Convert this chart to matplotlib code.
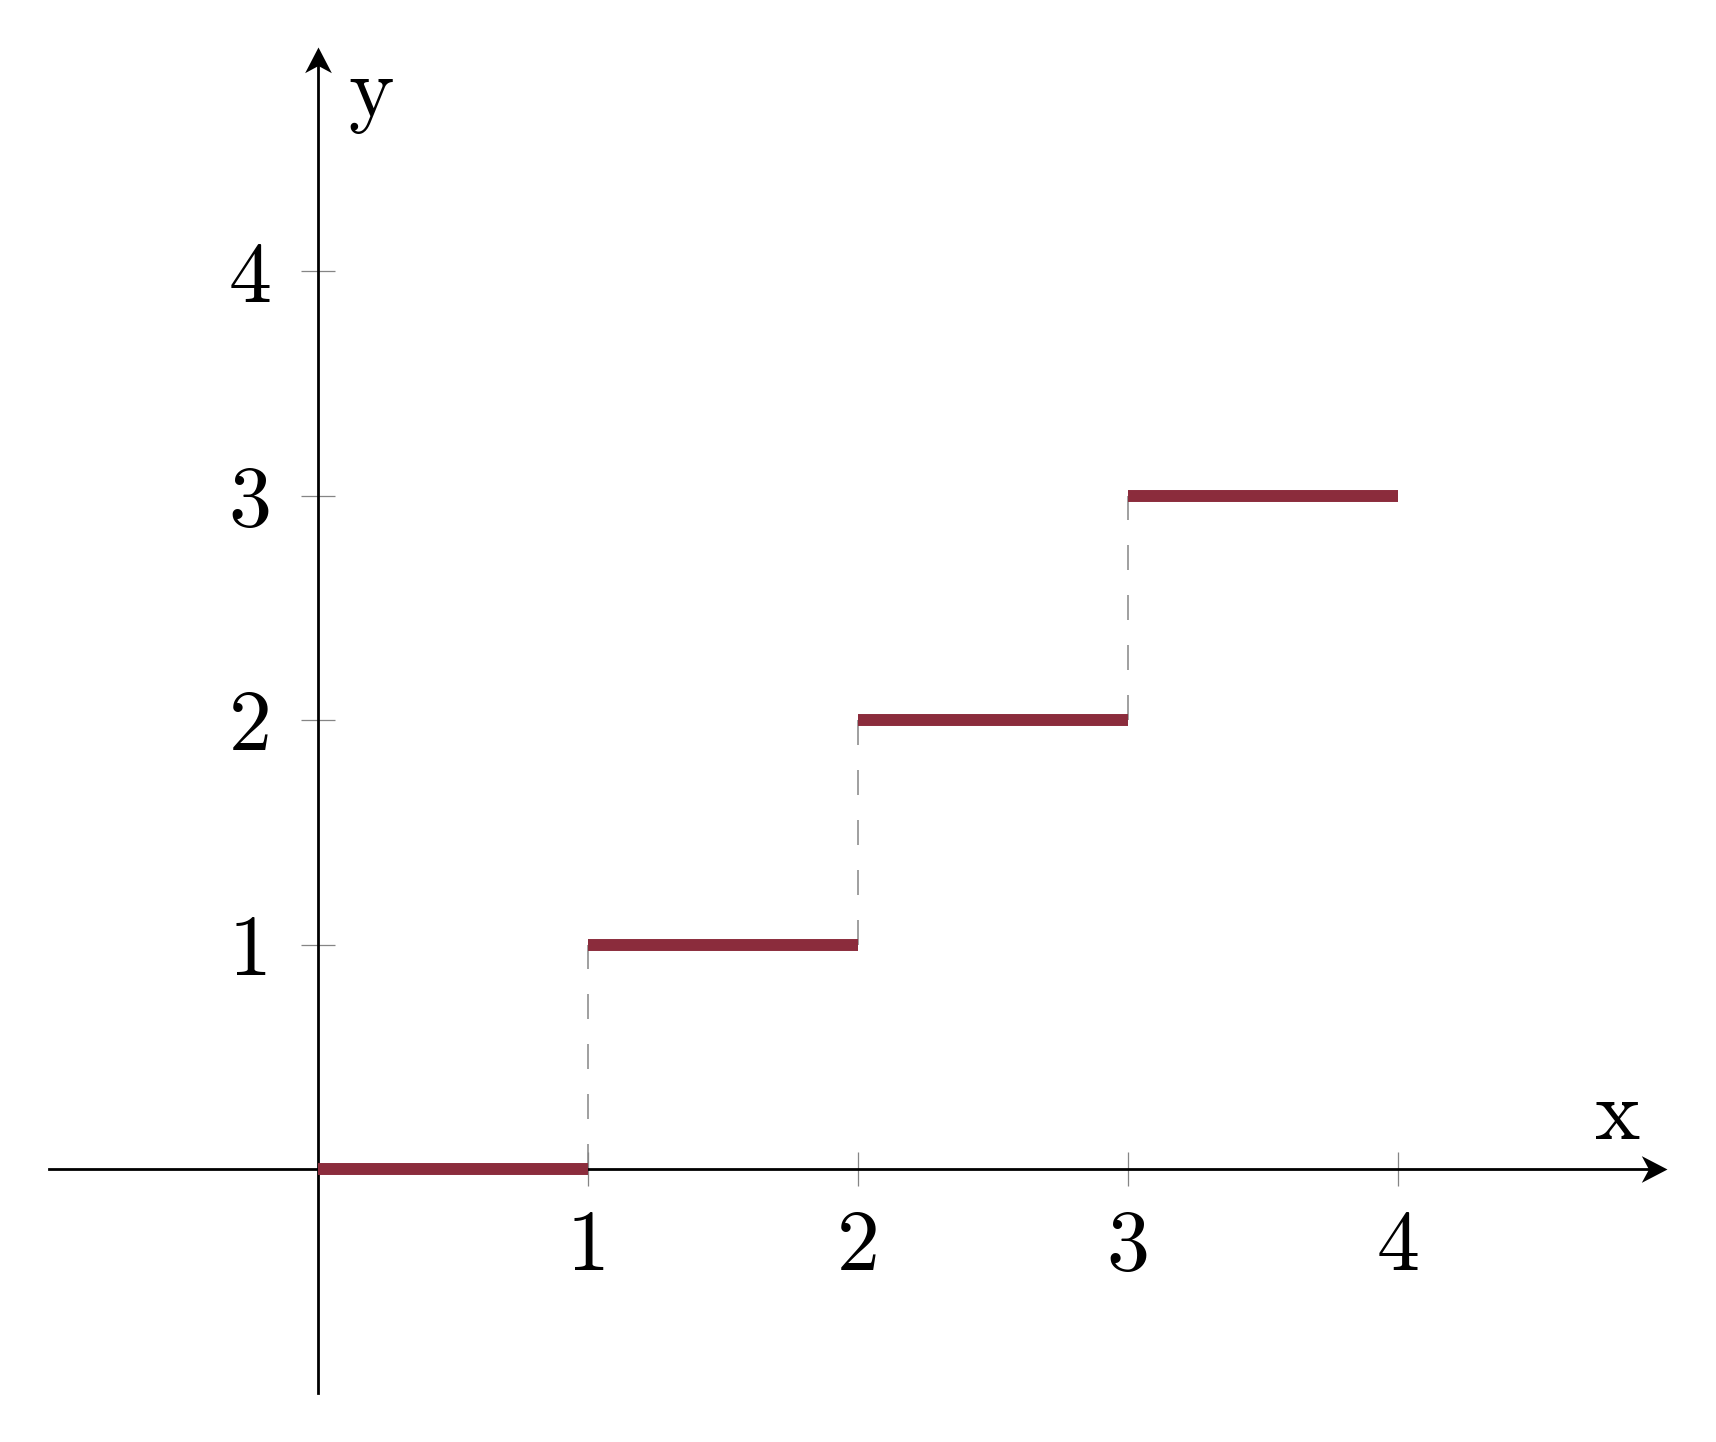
import matplotlib
matplotlib.use("Agg")
import matplotlib.pyplot as plt
from matplotlib.path import Path

# Step function data
step_starts = [0, 1, 2, 3]
step_ends = [1, 2, 3, 4]
step_values = [0, 1, 2, 3]
jump_x = [1, 2, 3]
jump_low = [0, 1, 2]
jump_high = [1, 2, 3]
x_ticks = [1, 2, 3, 4]
x_tick_labels = ["1", "2", "3", "4"]
y_ticks = [1, 2, 3, 4]
y_tick_labels = ["1", "2", "3", "4"]

plt.rcParams["font.family"] = "cmr10"
plt.rcParams["lines.scale_dashes"] = False

RED = "#8b2c3c"
GRAY = "#858585"

fig = plt.figure(figsize=(17.16, 14.42), dpi=100)
ax = fig.add_axes([0, 0, 1, 1])
ax.set_xlim(-1.1805, 5.180)
ax.set_ylim(-1.2166, 5.209)

# Axes through origin
for side in ("top", "right"):
    ax.spines[side].set_visible(False)
ax.spines["bottom"].set_position(("data", 0))
ax.spines["left"].set_position(("data", 0))
ax.spines["bottom"].set_bounds(-1, 4.95)
ax.spines["left"].set_bounds(-1, 4.95)
for side in ("bottom", "left"):
    ax.spines[side].set_linewidth(2.0)
    ax.spines[side].set_color("black")
    ax.spines[side].set_zorder(2)

# Stealth-style arrow heads
right_head = Path([(0, 0), (-1, 0.52), (-0.72, 0), (-1, -0.52), (0, 0)],
                  [Path.MOVETO, Path.LINETO, Path.LINETO, Path.LINETO, Path.CLOSEPOLY])
up_head = Path([(0, 0), (0.52, -1), (0, -0.72), (-0.52, -1), (0, 0)],
               [Path.MOVETO, Path.LINETO, Path.LINETO, Path.LINETO, Path.CLOSEPOLY])
ax.plot([5.0], [0], marker=right_head, markersize=37, color="black",
        markeredgewidth=0, clip_on=False, zorder=3)
ax.plot([0], [5.0], marker=up_head, markersize=37, color="black",
        markeredgewidth=0, clip_on=False, zorder=3)

# Ticks
ax.set_xticks(x_ticks)
ax.set_xticklabels(x_tick_labels)
ax.set_yticks(y_ticks)
ax.set_yticklabels(y_tick_labels)
ax.tick_params(axis="both", direction="inout", length=25, width=0.9,
               color=GRAY, labelsize=62, labelcolor="black")
ax.tick_params(axis="x", pad=17)
ax.tick_params(axis="y", pad=21)

# Dashed jump lines
ax.vlines(jump_x, jump_low, jump_high, colors=GRAY, linewidth=1.1,
          linestyles=(0, (18, 18)), zorder=1)

# Step segments
ax.hlines(step_values, step_starts, step_ends, colors=RED, linewidth=8.6,
          capstyle="butt", zorder=4)

# Axis labels
ax.text(4.815, 0.06, "x", fontsize=62, ha="center", va="bottom")
ax.text(0.11, 4.69, "y", fontsize=62, ha="left", va="baseline")

fig.savefig("out.png", dpi=100, facecolor="white")
